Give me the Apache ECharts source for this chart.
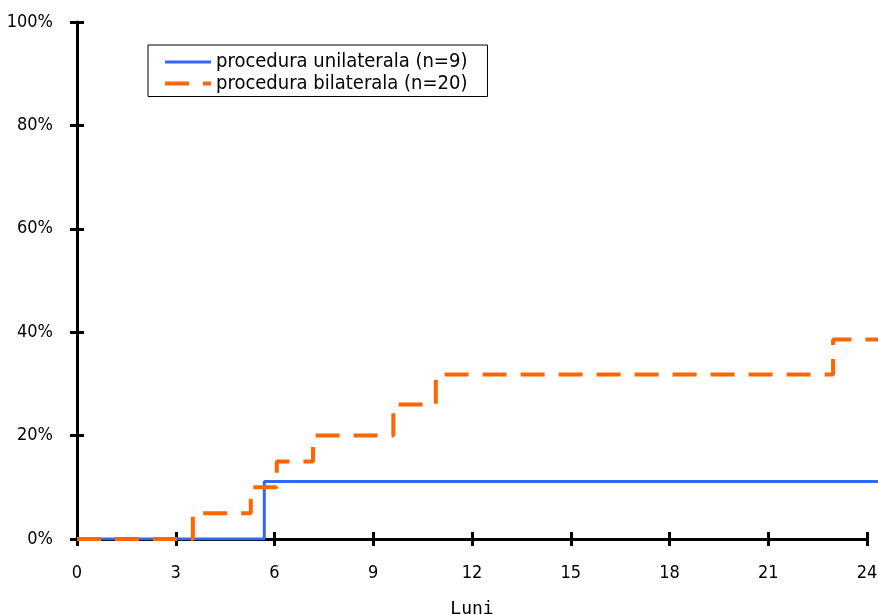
<!DOCTYPE html>
<html>
<head>
<meta charset="utf-8">
<script src="https://cdn.jsdelivr.net/npm/echarts@6/dist/echarts.min.js"></script>
<style>
  html, body { margin: 0; padding: 0; background: #fff; }
  #chart { width: 878px; height: 615px; }
</style>
</head>
<body>
<div id="chart"></div>
<script>
// step points: month where the curve changes, value (%) after the change
const uniX = [0, 5.69, 24.4]
const uniY = [0, 11.1, 11.1]
const biX = [0, 3.52, 5.28, 6.07, 7.17, 9.61, 10.9, 22.97, 24.4]
const biY = [0, 5, 10, 15, 20, 26, 31.8, 38.6, 38.6]
const seriesNames = ['procedura unilaterala (n=9)', 'procedura bilaterala (n=20)']

const font = "'DejaVu Sans Condensed', sans-serif"

function pairs(xs, ys) {
    return xs.map((x, i) => [x, ys[i]])
}

let myChart = echarts.init(document.getElementById('chart'))

// grid 0 carries the visible axes, grid 1 (slightly wider) carries the lines
// so they can run past 24 to the right edge like in the original
myChart.setOption({
    animation: false,
    backgroundColor: 'white',
    grid: [{
        left: 77,
        right: 11,
        top: 22,
        bottom: 76,
        outerBoundsMode: 'none'
    }, {
        left: 77,
        right: 0,
        top: 22,
        bottom: 76,
        outerBoundsMode: 'none'
    }],
    legend: {
        left: 148,
        top: 45,
        orient: 'vertical',
        padding: [7, 20, 3, 15],
        itemWidth: 46,
        itemHeight: 14,
        itemGap: 1.5,
        borderColor: '#000',
        borderWidth: 1,
        itemStyle: { opacity: 0 },
        lineStyle: { width: 'inherit' },
        textStyle: {
            fontFamily: font,
            fontSize: 20,
            lineHeight: 20,
            color: '#000'
        },
        data: seriesNames
    },
    xAxis: [{
        type: 'value',
        gridIndex: 0,
        min: 0,
        max: 24,
        interval: 3,
        splitLine: { show: false },
        axisLine: { lineStyle: { color: '#000', width: 3 } },
        axisTick: { length: 7, lineStyle: { color: '#000', width: 3 } },
        axisLabel: {
            margin: 25,
            fontFamily: font,
            fontSize: 18,
            color: '#000'
        },
        name: 'Luni',
        nameLocation: 'middle',
        nameGap: 61,
        nameTextStyle: { fontFamily: 'DejaVu Sans Mono', fontSize: 18, color: '#000' }
    }, {
        type: 'value',
        gridIndex: 0,
        position: 'bottom',
        min: 0,
        max: 24,
        interval: 3,
        splitLine: { show: false },
        axisLine: { show: false },
        axisLabel: { show: false },
        axisTick: { inside: true, length: 7, lineStyle: { color: '#000', width: 3 } }
    }, {
        type: 'value',
        gridIndex: 1,
        min: 0,
        max: 24 * 801 / 790,
        show: false
    }],
    yAxis: [{
        type: 'value',
        gridIndex: 0,
        min: 0,
        max: 100,
        interval: 20,
        splitLine: { show: false },
        axisLine: { show: true, lineStyle: { color: '#000', width: 3 } },
        axisTick: { show: true, length: 7, lineStyle: { color: '#000', width: 3 } },
        axisLabel: {
            margin: 24,
            formatter: '{value}%',
            fontFamily: font,
            fontSize: 18,
            color: '#000'
        }
    }, {
        type: 'value',
        gridIndex: 0,
        position: 'left',
        min: 0,
        max: 100,
        interval: 20,
        splitLine: { show: false },
        axisLine: { show: false },
        axisLabel: { show: false },
        axisTick: { show: true, inside: true, length: 7, lineStyle: { color: '#000', width: 3 } }
    }, {
        type: 'value',
        gridIndex: 1,
        min: 0,
        max: 100,
        show: false
    }],
    series: [{
        name: seriesNames[0],
        type: 'line',
        xAxisIndex: 2,
        yAxisIndex: 2,
        step: 'end',
        symbol: 'none',
        color: '#3366ff',
        lineStyle: { width: 3 },
        data: pairs(uniX, uniY)
    }, {
        name: seriesNames[1],
        type: 'line',
        xAxisIndex: 2,
        yAxisIndex: 2,
        step: 'end',
        symbol: 'none',
        color: '#ff6600',
        lineStyle: { width: 4, type: [24, 14] },
        data: pairs(biX, biY)
    }]
})
</script>
</body>
</html>
